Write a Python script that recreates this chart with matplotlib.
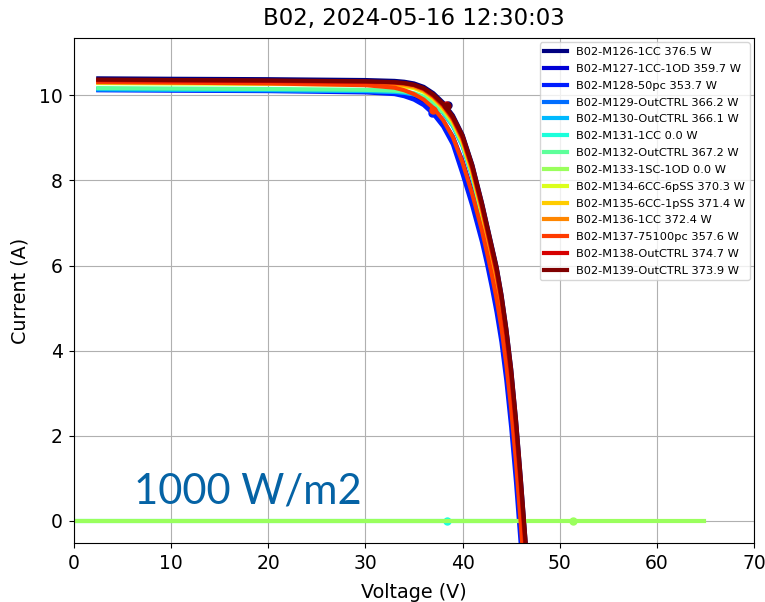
import numpy as np
import matplotlib.pyplot as plt

# --- nombres y potencias de los modulos ---
modulos = ["B02-M126-1CC", "B02-M127-1CC-1OD", "B02-M128-50pc", "B02-M129-OutCTRL",
           "B02-M130-OutCTRL", "B02-M131-1CC", "B02-M132-OutCTRL", "B02-M133-1SC-1OD",
           "B02-M134-6CC-6pSS", "B02-M135-6CC-1pSS", "B02-M136-1CC", "B02-M137-75100pc",
           "B02-M138-OutCTRL", "B02-M139-OutCTRL"]
potencias = [376.5, 359.7, 353.7, 366.2, 366.1, 0.0, 367.2, 0.0,
             370.3, 371.4, 372.4, 357.6, 374.7, 373.9]

# --- curvas I-V (voltaje comun) ---
volt = [2.5, 10, 20, 30, 33, 34, 35, 36, 37, 38, 39, 40, 41, 42,
        42.5, 43, 43.5, 44, 44.5, 45, 45.5, 46, 46.5, 47]

i_m126 = [10.40, 10.39, 10.38, 10.36, 10.34, 10.32, 10.28, 10.20, 10.05, 9.83, 9.53, 9.07, 8.37, 7.47,
          6.97, 6.47, 5.97, 5.32, 4.52, 3.57, 2.37, 0.97, -0.53, -2.08]
i_m127 = [10.14, 10.13, 10.12, 10.09, 10.06, 10.02, 9.95, 9.84, 9.66, 9.40, 9.03, 8.45, 7.72, 6.85,
          6.35, 5.82, 5.24, 4.55, 3.68, 2.62, 1.35, -0.12, -1.70, -3.30]
i_m128 = [10.12, 10.11, 10.10, 10.07, 10.03, 9.98, 9.90, 9.77, 9.56, 9.27, 8.85, 8.15, 7.40, 6.55,
          6.05, 5.50, 4.90, 4.20, 3.30, 2.20, 0.90, -0.60, -2.20, -3.80]
i_m129 = [10.15, 10.14, 10.13, 10.11, 10.09, 10.07, 10.03, 9.95, 9.81, 9.60, 9.29, 8.82, 8.10, 7.16,
          6.63, 6.10, 5.56, 4.88, 4.05, 3.07, 1.85, 0.41, -1.11, -2.69]
i_m130 = [10.14, 10.13, 10.12, 10.10, 10.08, 10.06, 10.02, 9.94, 9.80, 9.59, 9.28, 8.81, 8.09, 7.15,
          6.62, 6.09, 5.55, 4.87, 4.04, 3.06, 1.84, 0.40, -1.12, -2.70]
i_m132 = [10.17, 10.16, 10.15, 10.13, 10.11, 10.09, 10.05, 9.97, 9.83, 9.62, 9.31, 8.84, 8.12, 7.19,
          6.66, 6.13, 5.60, 4.92, 4.09, 3.11, 1.89, 0.45, -1.07, -2.64]
i_m134 = [10.29, 10.28, 10.27, 10.25, 10.23, 10.21, 10.17, 10.08, 9.92, 9.69, 9.37, 8.89, 8.16, 7.23,
          6.70, 6.17, 5.64, 4.97, 4.14, 3.16, 1.94, 0.51, -1.01, -2.58]
i_m135 = [10.31, 10.30, 10.29, 10.27, 10.25, 10.23, 10.19, 10.10, 9.94, 9.71, 9.40, 8.92, 8.20, 7.27,
          6.75, 6.22, 5.70, 5.03, 4.20, 3.23, 2.01, 0.58, -0.94, -2.51]
i_m136 = [10.33, 10.32, 10.31, 10.29, 10.27, 10.25, 10.21, 10.12, 9.96, 9.73, 9.42, 8.95, 8.23, 7.31,
          6.79, 6.27, 5.75, 5.08, 4.26, 3.29, 2.07, 0.65, -0.87, -2.44]
i_m137 = [10.31, 10.30, 10.28, 10.24, 10.18, 10.12, 10.03, 9.90, 9.70, 9.42, 9.02, 8.42, 7.68, 6.82,
          6.32, 5.80, 5.22, 4.54, 3.68, 2.64, 1.38, -0.10, -1.68, -3.28]
i_m138 = [10.36, 10.35, 10.34, 10.32, 10.30, 10.28, 10.24, 10.15, 9.99, 9.77, 9.46, 9.00, 8.29, 7.38,
          6.87, 6.36, 5.85, 5.19, 4.38, 3.42, 2.21, 0.80, -0.71, -2.27]
i_m139 = [10.37, 10.36, 10.35, 10.33, 10.31, 10.29, 10.25, 10.17, 10.02, 9.80, 9.50, 9.05, 8.35, 7.45,
          6.95, 6.45, 5.95, 5.30, 4.50, 3.55, 2.35, 0.95, -0.55, -2.10]

# modulos sin corriente (0.0 W)
v_m131 = [0.0, 45.0]
i_m131 = [0.0, 0.0]
v_m133 = [0.0, 64.8]
i_m133 = [0.0, 0.0]

# --- puntos de maxima potencia ---
vmp = [38.5, 37.2, 36.9, 37.8, 37.8, 38.4, 37.9, 51.4, 38.1, 38.2, 38.3, 37.0, 38.3, 38.4]
imp = [9.78, 9.67, 9.58, 9.69, 9.69, 0.0, 9.69, 0.0, 9.72, 9.72, 9.72, 9.66, 9.78, 9.74]

curvas = [(volt, i_m126), (volt, i_m127), (volt, i_m128), (volt, i_m129), (volt, i_m130),
          (v_m131, i_m131), (volt, i_m132), (v_m133, i_m133), (volt, i_m134), (volt, i_m135),
          (volt, i_m136), (volt, i_m137), (volt, i_m138), (volt, i_m139)]

colores = plt.cm.jet(np.linspace(0, 1, len(modulos)))

fig = plt.figure(figsize=(7.65, 6.02), dpi=100)
ax = fig.add_axes([0.0967, 0.098, 0.889, 0.839])

for k, (v, i) in enumerate(curvas):
    ax.plot(v, i, color=colores[k], lw=3, label=f"{modulos[k]} {potencias[k]} W")
    ax.plot(vmp[k], imp[k], "o", color=colores[k], ms=5)

ax.text(6.2, 0.42, "1000 W/m2", fontsize=30, color="#0563a5", family="Lato")

ax.set_xlim(0, 70)
ax.set_ylim(-0.52, 11.35)
ax.set_title("B02, 2024-05-16 12:30:03", fontsize=16.5, pad=9)
ax.set_xlabel("Voltage (V)", fontsize=13.8, labelpad=7)
ax.set_ylabel("Current (A)", fontsize=13.8, labelpad=7)
ax.tick_params(labelsize=13.5, pad=4.5)
ax.grid(True)
ax.legend(loc="upper right", fontsize=8.2, borderaxespad=0.4, labelspacing=0.6)

fig.savefig("out.png", dpi=100)
